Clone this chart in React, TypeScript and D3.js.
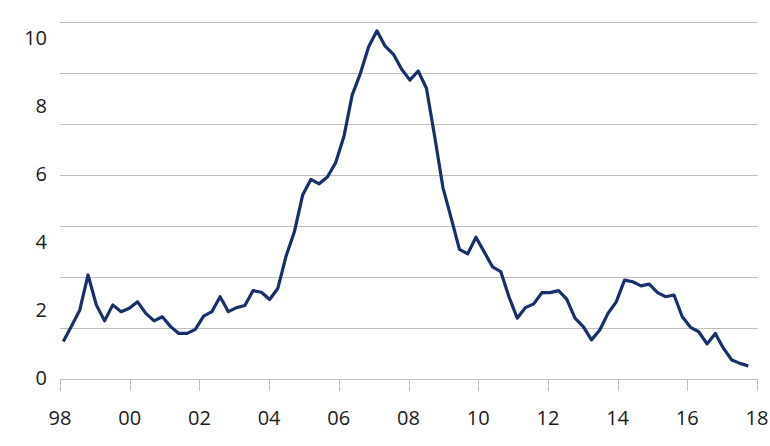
import React from "react";
import * as d3 from "d3";

const values: number[] = [
  1.10, 1.56, 2.03, 3.06, 2.18, 1.71, 2.18, 1.98, 2.08, 2.27,
  1.93, 1.71, 1.83, 1.54, 1.34, 1.34, 1.46, 1.85, 1.98, 2.42,
  1.98, 2.10, 2.16, 2.60, 2.55, 2.34, 2.67, 3.62, 4.33, 5.41,
  5.87, 5.74, 5.94, 6.36, 7.13, 8.35, 8.99, 9.77, 10.24, 9.79,
  9.55, 9.11, 8.79, 9.06, 8.55, 7.13, 5.63, 4.73, 3.81, 3.68,
  4.17, 3.74, 3.30, 3.16, 2.42, 1.79, 2.10, 2.21, 2.54, 2.54,
  2.60, 2.35, 1.79, 1.54, 1.15, 1.44, 1.93, 2.27, 2.91, 2.86,
  2.74, 2.79, 2.54, 2.42, 2.47, 1.83, 1.52, 1.39, 1.03, 1.34,
  0.90, 0.56, 0.46, 0.38,
];

const yTickValues: number[] = [0, 2, 4, 6, 8, 10];
const gridValues: number[] = [0, 1.5, 3, 4.5, 6, 7.5, 9, 10.5];
const yearTicks: number[] = [1998, 2000, 2002, 2004, 2006, 2008, 2010, 2012, 2014, 2016, 2018];

const W = 770;
const H = 446;
const plotLeft = 60;
const plotRight = 757;
const plotTop = 22;
const plotBottom = 379;

export default function App() {
  const y = d3.scaleLinear().domain([0, 10.5]).range([plotBottom, plotTop]);
  const xYear = d3.scaleLinear().domain([1998, 2018]).range([plotLeft, plotRight]);
  const xIdx = d3.scaleLinear().domain([0, values.length - 1]).range([63.3, 748.3]);

  const line = d3
    .line<number>()
    .x((_, i) => xIdx(i))
    .y((d) => y(d));

  const fmtYear = (yr: number) => String(yr % 100).padStart(2, "0");
  const font = "'Open Sans', 'DejaVu Sans', sans-serif";

  return (
    <div style={{ position: "absolute", left: 0, top: 0 }}>
      <svg width={W} height={H} style={{ display: "block", background: "#fff" }}>
        {gridValues.slice(1).map((g) => (
          <line
            key={g}
            x1={plotLeft}
            x2={plotRight + 1}
            y1={Math.round(y(g)) + 0.5}
            y2={Math.round(y(g)) + 0.5}
            stroke="#bfbfbf"
            strokeWidth={1}
          />
        ))}
        <line
          x1={plotLeft}
          x2={plotRight + 1}
          y1={plotBottom + 0.5}
          y2={plotBottom + 0.5}
          stroke="#bfbfbf"
          strokeWidth={1}
        />
        {yearTicks.map((t) => (
          <line
            key={t}
            x1={Math.round(xYear(t)) + 0.5}
            x2={Math.round(xYear(t)) + 0.5}
            y1={plotBottom}
            y2={plotBottom + 12}
            stroke="#bfbfbf"
            strokeWidth={1}
          />
        ))}
        {yTickValues.map((v) => (
          <text
            key={v}
            x={47}
            y={y(v) - 1}
            dy="0.35em"
            textAnchor="end"
            fontFamily={font}
            fontSize={20}
            fill="#1a1a1a"
          >
            {v}
          </text>
        ))}
        {yearTicks.map((t) => (
          <text
            key={t}
            x={xYear(t)}
            y={418}
            dy="0.35em"
            textAnchor="middle"
            fontFamily={font}
            fontSize={20}
            fill="#1a1a1a"
          >
            {fmtYear(t)}
          </text>
        ))}
        <path
          d={line(values) || ""}
          fill="none"
          stroke="#172f6b"
          strokeWidth={3.2}
          strokeLinejoin="round"
        />
      </svg>
    </div>
  );
}
